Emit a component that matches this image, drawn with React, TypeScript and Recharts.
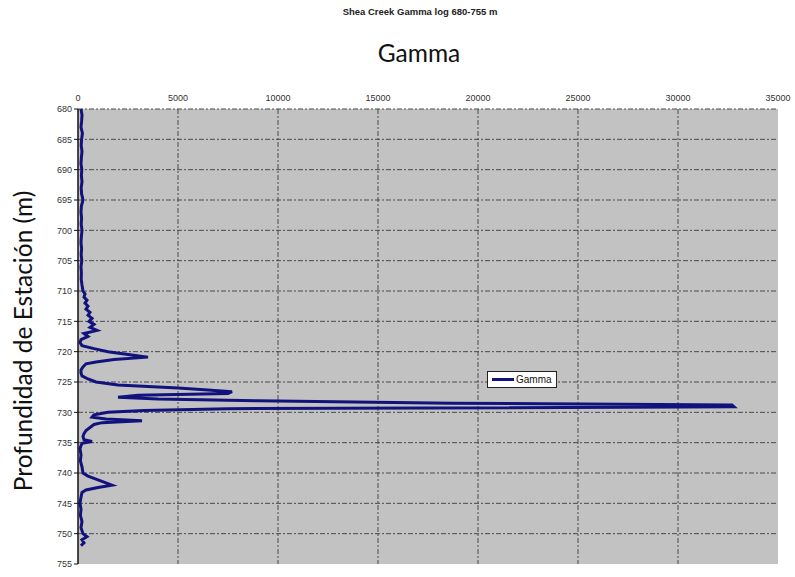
import {
  LineChart,
  Line,
  XAxis,
  YAxis,
  CartesianGrid,
  ReferenceLine,
} from "recharts";

const depths = [
  680, 681, 682, 683, 684, 685, 686, 687, 688, 689, 690, 691, 692, 693, 694, 695, 696, 697, 698, 699,
  700, 701, 702, 703, 704, 705, 706, 707, 708, 709, 710, 710.5, 711, 711.5, 712, 712.5, 713, 713.5,
  714, 714.5, 715, 715.5, 716, 716.5, 717, 717.5, 718, 718.5, 719, 719.5, 720, 720.5, 720.9, 721.3,
  721.7, 722, 722.5, 723, 723.5, 724, 724.5, 725, 725.5, 726, 726.3, 726.6, 726.9, 727.2, 727.5,
  727.8, 728.1, 728.5, 728.8, 729.1, 729.4, 729.7, 730, 730.4, 730.8, 731.1, 731.4, 731.7, 732,
  732.5, 733, 733.5, 734, 734.5, 734.8, 735.1, 735.5, 736, 737, 738, 739, 740, 740.5, 741, 741.5,
  742, 742.4, 742.8, 743.2, 744, 745, 746, 747, 748, 749, 750, 750.5, 751, 751.5, 752,
];

const gamma = [
  150, 200, 180, 150, 220, 180, 160, 200, 170, 150, 190, 170, 200, 160, 180, 250, 170, 150, 180, 160,
  200, 170, 150, 180, 160, 190, 150, 170, 160, 200, 250, 350, 300, 450, 350, 500, 400, 600,
  500, 700, 550, 800, 600, 950, 300, 500, 150, 100, 200, 800, 1500, 2600, 3500, 1800,
  900, 400, 250, 150, 150, 200, 500, 900, 2000, 5000, 6500, 7700, 7500, 3000, 2000,
  4000, 9000, 18700, 32700, 32800, 7500, 3300, 1500, 800, 700, 1400, 3200, 1200, 800,
  600, 400, 300, 250, 300, 700, 200, 150, 100, 150, 120, 200, 250, 500, 900, 1300,
  1700, 1000, 400, 200, 150, 100, 150, 120, 200, 150, 250, 450, 200, 300, 150,
];

const gammaTicks = [0, 5000, 10000, 15000, 20000, 25000, 30000, 35000];
const depthTicks = [680, 685, 690, 695, 700, 705, 710, 715, 720, 725, 730, 735, 740, 745, 750, 755];

const data = depths.map((d, i) => ({ depth: d, gamma: gamma[i] }));

const LINE_COLOR = "#12127e";
const GRID_COLOR = "#4a4a4a";
const SMALL_FONT = "Arial, 'Liberation Sans', sans-serif";
const BIG_FONT = "Lato, 'Open Sans', sans-serif";

export default function App() {
  return (
    <div style={{ position: "absolute", left: 0, top: 0, width: 795, height: 577, background: "white" }}>
      <div
        style={{
          position: "absolute",
          left: 0,
          width: 840,
          top: 6,
          textAlign: "center",
          fontFamily: SMALL_FONT,
          fontSize: 9.5,
          fontWeight: "bold",
          color: "#222",
        }}
      >
        Shea Creek Gamma log 680-755 m
      </div>
      <div
        style={{
          position: "absolute",
          left: 0,
          width: 838,
          top: 38,
          textAlign: "center",
          fontFamily: BIG_FONT,
          fontSize: 24.5,
          color: "#111",
        }}
      >
        Gamma
      </div>
      <div
        style={{
          position: "absolute",
          left: 22,
          top: 341,
          transform: "translate(-50%, -50%) rotate(-90deg)",
          whiteSpace: "nowrap",
          fontFamily: BIG_FONT,
          fontSize: 24.5,
          color: "#111",
        }}
      >
        Profundidad de Estación (m)
      </div>
      <div style={{ position: "absolute", left: 0, top: 0 }}>
        <LineChart
          width={795}
          height={577}
          data={data}
          layout="vertical"
          margin={{ top: 89, right: 17, bottom: 13, left: 0 }}
        >
          <CartesianGrid fill="#c2c2c2" vertical={false} horizontal={false} />
          <XAxis
            type="number"
            dataKey="gamma"
            orientation="top"
            domain={[0, 35000]}
            ticks={gammaTicks}
            height={20}
            axisLine={false}
            tickLine={false}
            tick={{ fontSize: 9, fill: "#333", fontFamily: SMALL_FONT }}
          />
          <YAxis
            type="number"
            dataKey="depth"
            domain={[680, 755]}
            ticks={depthTicks}
            width={78}
            interval={0}
            axisLine={{ stroke: "#111", strokeWidth: 1.5 }}
            tickLine={{ stroke: "#111" }}
            tickSize={4}
            tick={{ fontSize: 9, fill: "#333", fontFamily: SMALL_FONT }}
          />
          {gammaTicks.slice(1, -1).map((t) => (
            <ReferenceLine key={`x${t}`} x={t} stroke={GRID_COLOR} strokeDasharray="5 2 2 2" />
          ))}
          {depthTicks.slice(0, -1).map((t) => (
            <ReferenceLine key={`y${t}`} y={t} stroke={GRID_COLOR} strokeDasharray="5 2 2 2" />
          ))}
          <Line
            type="linear"
            dataKey="gamma"
            name="Gamma"
            stroke={LINE_COLOR}
            strokeWidth={3}
            dot={false}
            isAnimationActive={false}
          />
        </LineChart>
      </div>
      <div
        style={{
          position: "absolute",
          left: 487,
          top: 371,
          display: "flex",
          alignItems: "center",
          background: "white",
          border: "1px solid #222",
          padding: "2px 4px",
          fontFamily: SMALL_FONT,
          fontSize: 10,
          color: "#111",
        }}
      >
        <span style={{ display: "inline-block", width: 22, height: 3, background: LINE_COLOR, marginRight: 2 }} />
        Gamma
      </div>
    </div>
  );
}
